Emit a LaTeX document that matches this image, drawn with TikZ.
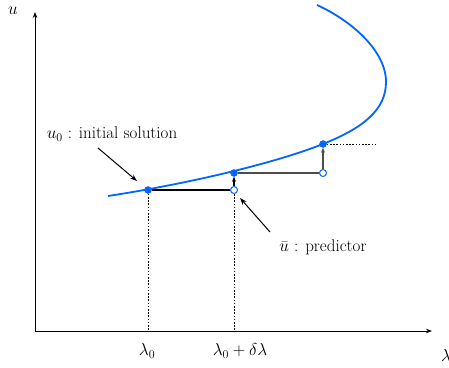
\documentclass[tikz,border=0pt]{standalone}
\usetikzlibrary{arrows.meta}
\definecolor{curveblue}{RGB}{0,102,255}
\begin{document}
\begin{tikzpicture}[x=1pt,y=-1pt,
  font=\fontsize{17}{20}\selectfont,
  axis/.style={line width=0.9pt,-{Stealth[length=6pt,width=4.5pt]}},
  fdot/.style={circle,inner sep=0pt,minimum size=7pt,fill=curveblue,draw=curveblue},
  odot/.style={circle,inner sep=0pt,minimum size=7pt,fill=white,draw=curveblue,line width=1pt},
  stepline/.style={line width=1.1pt},
  steparrow/.style={line width=1.1pt,-{Stealth[length=5pt,width=4pt]}},
  dotline/.style={line width=1pt,dash pattern=on 1.6pt off 1.6pt},
  annot/.style={line width=1pt,-{Stealth[length=7pt,width=5pt]}}]
\useasboundingbox (0,0) rectangle (449,367);
% axes
\coordinate (O) at (35,331);
\coordinate (xend) at (432,331);
\coordinate (yend) at (35,12);
\draw[axis] (O) -- (xend);
\draw[axis] (O) -- (yend);
\node (ulab) at (13,11) {$u$};
\node (llab) at (446,355) {$\lambda$};
% curve
\draw[curveblue,line width=1.8pt] (108,196) .. controls (180,185) and (270,165) .. (323,144)
  .. controls (363,128) and (386,110) .. (386,82)
  .. controls (386,50) and (350,20) .. (317,5);
% points
\coordinate (t0) at (148,331);
\coordinate (t1) at (234,331);
\coordinate (dend) at (377,144);
\node[fdot] (u0) at (148,190) {};
\node[odot] (p1) at (234,190) {};
\node[fdot] (c1) at (234,173) {};
\node[odot] (p2) at (323,173) {};
\node[fdot] (c2) at (323,144) {};
% steps
\draw[dotline] (u0) -- (t0);
\draw[dotline] (p1) -- (t1);
\draw[stepline] (u0) -- (p1);
\draw[steparrow] (p1) -- (c1);
\draw[stepline,black!70] (c1) -- (p2);
\draw[steparrow,black!70] (p2) -- (c2);
\draw[dotline] (c2) -- (dend);
% tick labels
\node (l0) at (147,351) {$\lambda_0$};
\node (l1) at (240,351) {$\lambda_0+\delta\lambda$};
% annotations
\node (ann1) at (112,134) {$u_0$ : initial solution};
\node (ann2) at (323,247) {$\bar u$ : predictor};
\coordinate (a1s) at (98,148);
\coordinate (a1e) at (137,181);
\coordinate (a2s) at (270,232);
\coordinate (a2e) at (240,198);
\draw[annot] (a1s) -- (a1e);
\draw[annot] (a2s) -- (a2e);
\end{tikzpicture}
\end{document}
